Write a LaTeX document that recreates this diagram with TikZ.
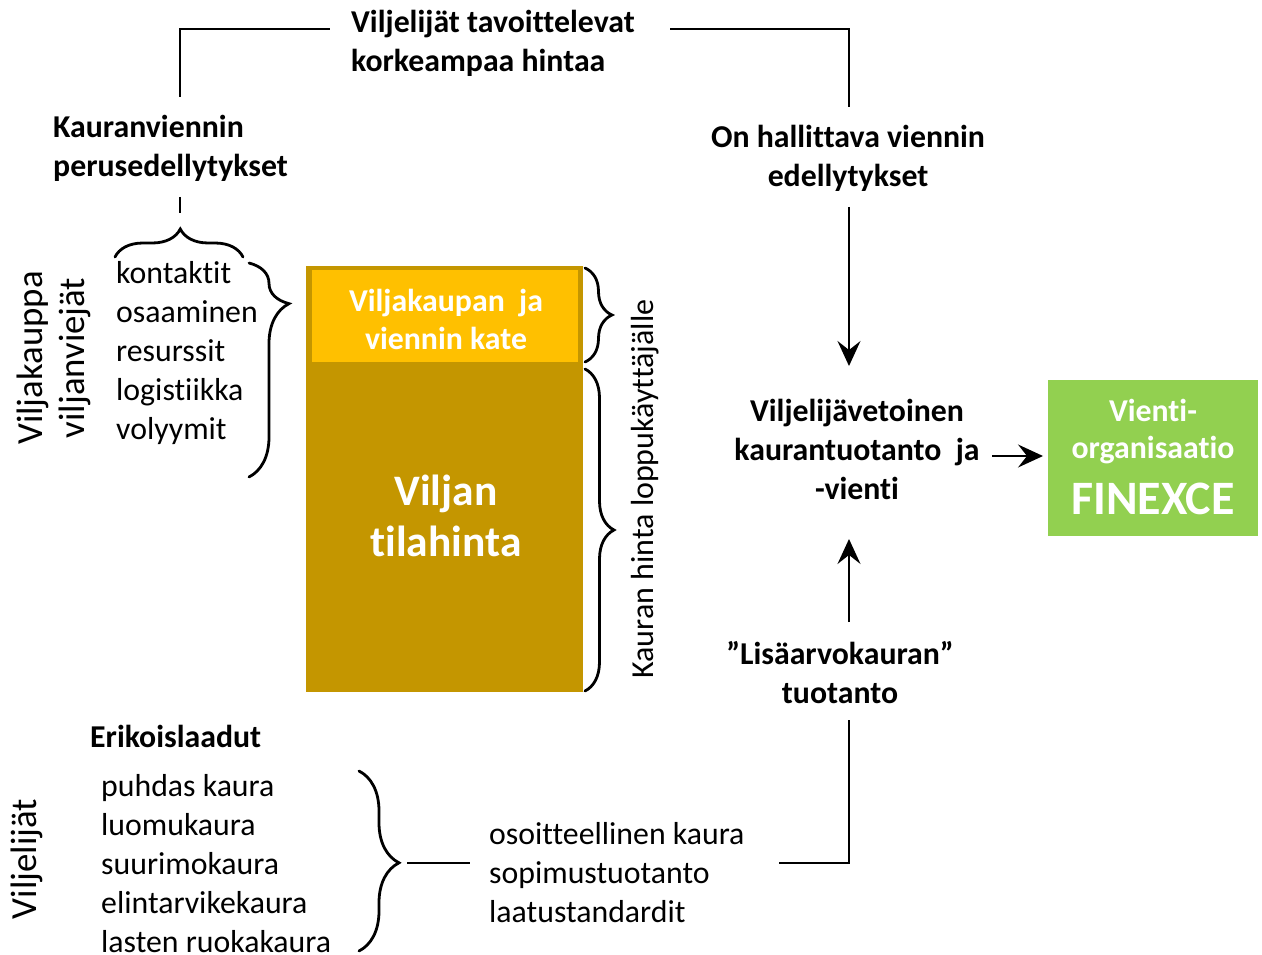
\documentclass[tikz,border=0pt]{standalone}
\usepackage{fontspec}
\setmainfont{Carlito}[Ligatures={NoCommon}]
\usetikzlibrary{arrows.meta,decorations.pathreplacing}
\definecolor{gold}{HTML}{C49600}
\definecolor{amber}{HTML}{FFC000}
\definecolor{leaf}{HTML}{92D050}
\begin{document}
\begin{tikzpicture}[x=1pt,y=-1pt,
  txt/.style={inner sep=0pt, font=\fontsize{31.8}{39}\selectfont},
  btxt/.style={inner sep=0pt, font=\fontsize{31.8}{39}\selectfont\bfseries},
  wtxt/.style={inner sep=0pt, text=white, font=\fontsize{31.8}{38}\selectfont\bfseries},
  conn/.style={line width=1.6pt},
  arr/.style={line width=1.6pt,-{Stealth[length=25pt,width=23pt,inset=9pt]}},
  brc/.style={decorate, line width=2.8pt, line cap=round},
]
\useasboundingbox (0,0) rectangle (1262,955);

% ---- big price box
\node[fill=gold, draw=none, minimum width=277pt, minimum height=426pt, anchor=north west, inner sep=0pt] (box) at (306,266) {};
\node[fill=amber, draw=none, minimum width=266pt, minimum height=92pt, anchor=north west, inner sep=0pt] (kate) at (312,270) {};
\node[wtxt, align=center] (katet) at (446,319) {Viljakaupan\ \ ja\\viennin kate};
\node[inner sep=0pt, text=white, align=center, font=\fontsize{43.5}{51}\selectfont\bfseries] (tila) at (446,516) {Viljan\\tilahinta};

% ---- green box
\node[fill=leaf, draw=none, minimum width=210pt, minimum height=156pt, anchor=north west, inner sep=0pt] (fin) at (1048,380) {};
\node[wtxt] (fin1) at (1153,410) {Vienti-};
\node[wtxt] (fin2) at (1153,450) {organisaatio};
\node[inner sep=0pt, text=white, font=\fontsize{48}{54}\selectfont\bfseries] (fin3) at (1153,499) {FINEXCE};

% ---- texts
\node[btxt, anchor=west, align=left] (goal) at (351,43.5) {Viljelijät tavoittelevat\\korkeampaa hintaa};
\node[btxt, anchor=west, align=left] (kp) at (53,148.5) {Kauranviennin\\perusedellytykset};
\node[btxt, align=center] (hall) at (848,158.5) {On hallittava viennin\\edellytykset};
\node[txt, anchor=west, align=left] (list) at (116,353) {kontaktit\\osaaminen\\resurssit\\logistiikka\\volyymit};
\node[inner sep=0pt, rotate=90, align=center, font=\fontsize{36.8}{42}\selectfont] (vk) at (54,358) {Viljakauppa\\viljanviejät};
\node[inner sep=0pt, rotate=90, font=\fontsize{32}{39}\selectfont] (khl) at (645,489) {Kauran hinta loppukäyttäjälle};
\node[btxt, align=center] (vv) at (857,449.5) {Viljelijävetoinen\\kaurantuotanto\ \ ja\\-vienti};
\node[btxt, align=center] (lis) at (840,672.5) {”Lisäarvokauran”\\tuotanto};
\node[btxt, anchor=west] (eri) at (90,736) {Erikoislaadut};
\node[txt, anchor=west, align=left] (list2) at (101,864) {puhdas kaura\\luomukaura\\suurimokaura\\elintarvikekaura\\lasten ruokakaura};
\node[inner sep=0pt, rotate=90, font=\fontsize{36.8}{42}\selectfont] (vj) at (27,859) {Viljelijät};
\node[txt, anchor=west, align=left] (oso) at (489,873) {osoitteellinen kaura\\sopimustuotanto\\laatustandardit};

% ---- coordinates
\coordinate (a1) at (180,97);
\coordinate (a2) at (330,29);
\coordinate (a3) at (670,29);
\coordinate (a4) at (849,107);
\coordinate (b1) at (180,197);
\coordinate (b2) at (180,213);
\coordinate (d1) at (849,207);
\coordinate (d2) at (849,366);
\coordinate (u1) at (849,622);
\coordinate (u2) at (849,539);
\coordinate (r1) at (992,456);
\coordinate (r2) at (1043,456);
\coordinate (l1) at (849,720);
\coordinate (l2) at (779,863);
\coordinate (m1) at (407,863);
\coordinate (m2) at (470,863);

% ---- connectors
\draw[conn] (a1) |- (a2);
\draw[conn] (a3) -| (a4);
\draw[conn] (b1) -- (b2);
\draw[arr] (d1) -- (d2);
\draw[arr] (u1) -- (u2);
\draw[arr] (r1) -- (r2);
\draw[conn] (l1) |- (l2);
\draw[conn] (m1) -- (m2);

% ---- braces
\draw[brc, decoration={brace, amplitude=28pt, aspect=0.51}] (115,257) -- (243,257);
\draw[brc, decoration={brace, amplitude=40pt, aspect=0.19}] (249,263) -- (249,477);
\draw[brc, decoration={brace, amplitude=27pt, aspect=0.5}] (585,268) -- (585,362);
\draw[brc, decoration={brace, amplitude=29pt, aspect=0.5}] (585,369) -- (585,691);
\draw[brc, decoration={brace, amplitude=40pt, aspect=0.51}] (359,771) -- (359,951);
\end{tikzpicture}
\end{document}
